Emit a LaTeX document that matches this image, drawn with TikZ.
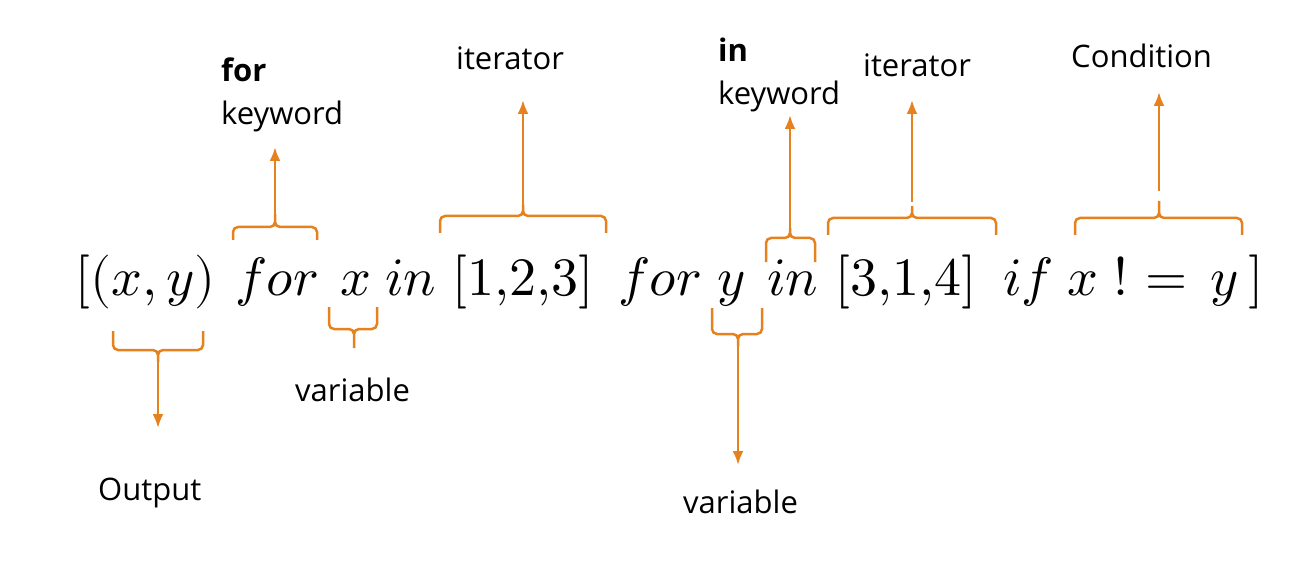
\documentclass[tikz,border=0pt]{standalone}
\usepackage{fontspec}
\usepackage{unicode-math}
\setmainfont{Open Sans}
\setmathfont{Latin Modern Math}
\usetikzlibrary{arrows.meta}
\definecolor{brcorange}{RGB}{230,130,30}

\begin{document}
\begin{tikzpicture}[x=1pt,y=-1pt,
  code/.style={anchor=base west, inner sep=0pt, font=\fontsize{54}{60}\selectfont},
  lbl/.style={anchor=base west, inner sep=0pt, font=\fontsize{31}{36}\selectfont},
  brc/.style={draw=brcorange, line width=2.5pt, rounded corners=5pt},
  arr/.style={-{Latex[length=14pt,width=11pt]}, draw=brcorange, fill=brcorange, line width=2.5pt}]

\useasboundingbox (0,0) rectangle (1289,561);

\pgfmathsetmacro\y{295}

% the expression
\node[code] (out_expr) at (75,\y) {$[(x,y)$};
\node[code] (for_one) at (235,\y) {$for$};
\node[code] (var_x) at (340,\y) {$x$};
\node[code] (in_one) at (385,\y) {$in$};
\node[code] (list_one) at (452,\y) {$[1{,}2{,}3]$};
\node[code] (for_two) at (618,\y) {$for$};
\node[code] (var_y) at (717,\y) {$y$};
\node[code] (in_two) at (767,\y) {$in$};
\node[code] (list_two) at (835,\y) {$[3{,}1{,}4]$};
\node[code] (if_kw) at (1003,\y) {$if$};
\node[code] (cond_x) at (1067,\y) {$x$};
\node[code] (cond_not) at (1113,\y) {$!$};
\node[code] (cond_eq) at (1145,\y) {$=$};
\node[code] (cond_y) at (1210,\y) {$y$};
\node[code] (close) at (1248,\y) {$]$};

% for keyword
\coordinate (for_tip) at (275,214);
\draw[brc] (233,240) -- (233,227) -- (275,227) -- (for_tip)
           (317,240) -- (317,227) -- (275,227) -- (for_tip);
\node[lbl] (for_bold) at (221,82) {\textbf{for}};
\node[lbl] (for_lbl) at (221,125) {keyword};
\coordinate (for_head) at (275,147);
\draw[arr] (for_tip) -- (for_head);

% first iterator
\coordinate (iter_one_tip) at (523,205);
\draw[brc] (440,233) -- (440,216) -- (523,216) -- (iter_one_tip)
           (606,233) -- (606,216) -- (523,216) -- (iter_one_tip);
\node[lbl] (iter_one_lbl) at (456,70) {iterator};
\coordinate (iter_one_head) at (523,100);
\draw[arr] (iter_one_tip) -- (iter_one_head);

% in keyword
\coordinate (in_tip) at (790,228);
\draw[brc] (766,262) -- (766,238) -- (790,238) -- (in_tip)
           (815,262) -- (815,238) -- (790,238) -- (in_tip);
\node[lbl] (in_bold) at (718,62) {\textbf{in}};
\node[lbl] (in_lbl) at (718,105) {keyword};
\coordinate (in_head) at (790,115);
\draw[arr] (in_tip) -- (in_head);

% second iterator
\coordinate (iter_two_tip) at (912,206);
\draw[brc] (828,235) -- (828,218) -- (912,218) -- (iter_two_tip)
           (996,235) -- (996,218) -- (912,218) -- (iter_two_tip);
\node[lbl] (iter_two_lbl) at (863,77) {iterator};
\coordinate (iter_two_head) at (912,100);
\draw[arr, shorten <=4pt] (iter_two_tip) -- (iter_two_head);

% condition
\coordinate (cond_tip) at (1159,201);
\draw[brc] (1075,235) -- (1075,218) -- (1159,218) -- (cond_tip)
           (1242,235) -- (1242,218) -- (1159,218) -- (cond_tip);
\node[lbl] (cond_lbl) at (1071,68) {Condition};
\coordinate (cond_head) at (1159,92);
\draw[arr, shorten <=10pt] (cond_tip) -- (cond_head);

% output
\coordinate (out_tip) at (158,362);
\draw[brc] (113,331) -- (113,350) -- (158,350) -- (out_tip)
           (203,331) -- (203,350) -- (158,350) -- (out_tip);
\node[lbl] (out_lbl) at (98,500) {Output};
\coordinate (out_head) at (158,428);
\draw[arr] (out_tip) -- (out_head);

% first variable
\coordinate (var_one_tip) at (354,348);
\draw[brc] (329,307) -- (329,329) -- (354,329) -- (var_one_tip)
           (377,307) -- (377,329) -- (354,329) -- (var_one_tip);
\node[lbl] (var_one_lbl) at (295,401) {variable};

% second variable
\coordinate (var_two_tip) at (738,346);
\draw[brc] (712,308) -- (712,334) -- (738,334) -- (var_two_tip)
           (762,308) -- (762,334) -- (738,334) -- (var_two_tip);
\node[lbl] (var_two_lbl) at (683,513) {variable};
\coordinate (var_two_head) at (738,465);
\draw[arr] (var_two_tip) -- (var_two_head);

\end{tikzpicture}
\end{document}
